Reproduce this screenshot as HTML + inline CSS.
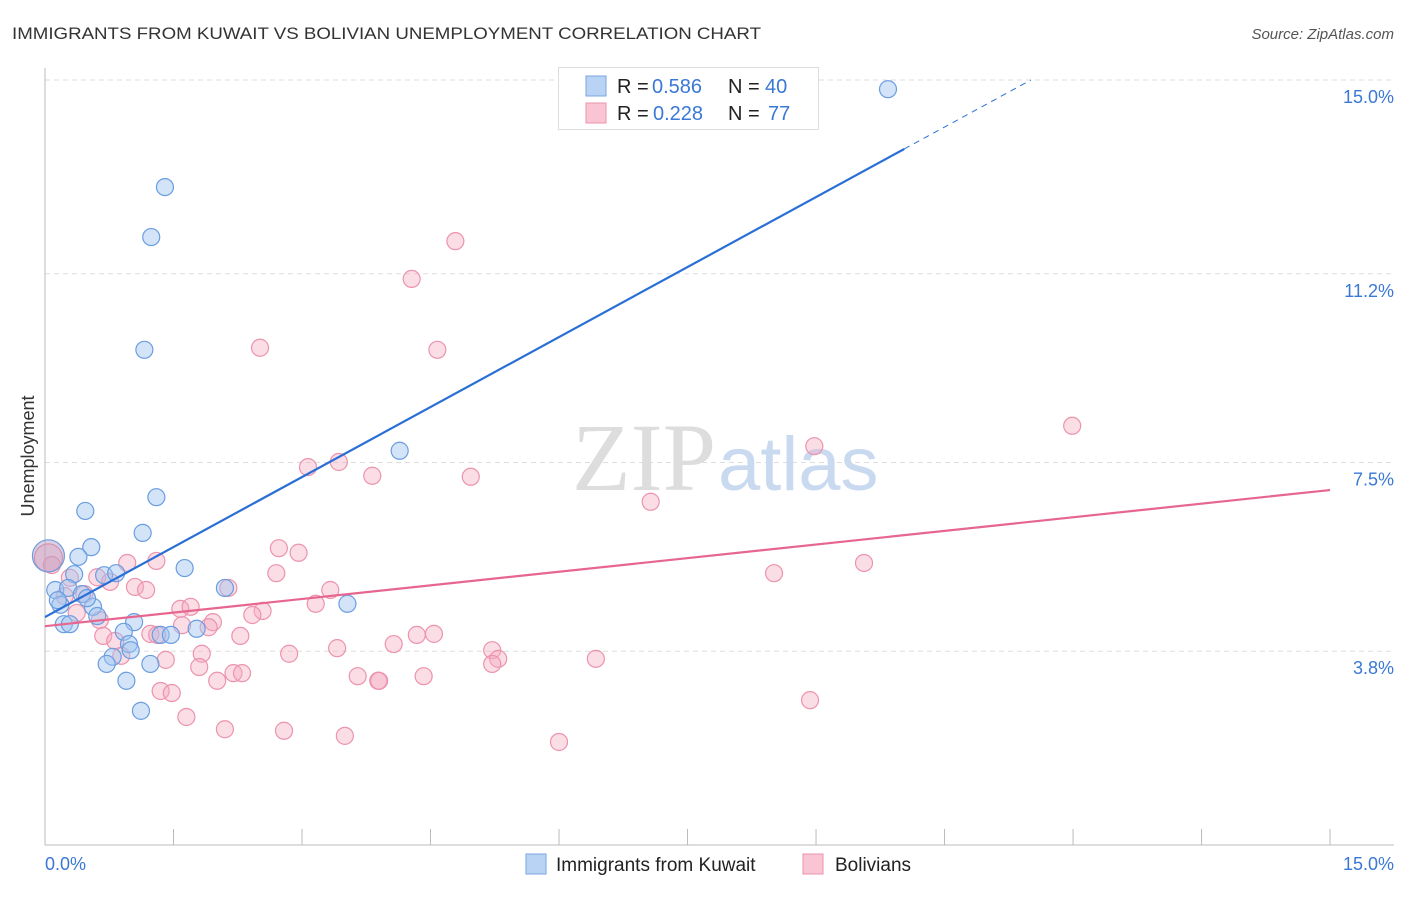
<!DOCTYPE html>
<html><head><meta charset="utf-8"><style>
body{margin:0;background:#fff;font-family:"Liberation Sans",sans-serif}
</style></head><body>
<svg width="1406" height="892" viewBox="0 0 1406 892" xmlns="http://www.w3.org/2000/svg">
<text x="12" y="39" font-size="17" fill="#333" textLength="749" lengthAdjust="spacingAndGlyphs">IMMIGRANTS FROM KUWAIT VS BOLIVIAN UNEMPLOYMENT CORRELATION CHART</text>
<text x="1394" y="39" font-size="15" fill="#555" font-style="italic" text-anchor="end">Source: ZipAtlas.com</text>
<g id="grid"></g>
<text x="716" y="490" font-size="96" font-family="Liberation Serif" fill="#ddd" text-anchor="end">ZIP</text>
<text x="718" y="490" font-size="76" fill="#c9daf0">atlas</text>
<g id="pts"></g>
<g id="lines"></g>
<text transform="translate(34,456) rotate(-90)" font-size="18" fill="#333" text-anchor="middle">Unemployment</text>
<text x="45" y="870" font-size="18" fill="#3a78d6">0.0%</text>
<text x="1394" y="870" font-size="18" fill="#3a78d6" text-anchor="end">15.0%</text>
<g font-size="20">
<rect x="558.5" y="67.5" width="260" height="62" fill="#fff" stroke="#ddd"/>
<rect x="586" y="76" width="20" height="20" fill="#b9d3f5" stroke="#7aa6e0"/>
<rect x="586" y="103" width="20" height="20" fill="#f9c5d4" stroke="#ec93ad"/>
<text x="617" y="93" fill="#222">R =</text>
<text x="652" y="93" fill="#3a78d6">0.586</text>
<text x="728" y="93" fill="#222">N =</text>
<text x="765" y="93" fill="#3a78d6">40</text>
<text x="617" y="120" fill="#222">R =</text>
<text x="653" y="120" fill="#3a78d6">0.228</text>
<text x="728" y="120" fill="#222">N =</text>
<text x="768" y="120" fill="#3a78d6">77</text>
</g>
<g>
<rect x="526" y="854" width="20" height="20" fill="#b9d3f5" stroke="#7aa6e0"/>
<text x="556" y="871" font-size="19" fill="#222">Immigrants from Kuwait</text>
<rect x="803" y="854" width="20" height="20" fill="#f9c5d4" stroke="#ec93ad"/>
<text x="835" y="871" font-size="19" fill="#222">Bolivians</text>
</g>
</svg>
<script>
const yTicks=[15.0,11.2,7.5,3.8];
const yTickLabels=["15.0%","11.2%","7.5%","3.8%"];
const blueX=[9.84,1.40,1.24,1.16,4.14,1.30,0.47,1.14,0.54,0.39,1.63,0.34,0.69,0.83,2.10,0.12,0.27,0.43,0.18,0.56,0.61,3.53,0.22,0.29,1.04,0.92,1.77,1.35,1.47,0.98,1.00,0.79,0.72,1.23,0.95,1.12,0.49,0.15,0.04];
const blueY=[14.82,12.90,11.92,9.71,7.73,6.82,6.55,6.12,5.84,5.65,5.43,5.31,5.29,5.33,5.04,5.00,5.04,4.92,4.71,4.67,4.49,4.73,4.33,4.33,4.37,4.18,4.24,4.12,4.12,3.94,3.82,3.69,3.55,3.55,3.22,2.63,4.84,4.80,5.67];
const pinkX=[4.79,4.28,2.51,4.58,11.99,8.98,3.07,3.43,3.82,4.97,7.07,2.73,2.96,1.30,0.96,9.56,8.51,2.70,0.61,0.76,1.05,2.14,1.18,3.33,0.08,0.29,0.23,0.46,3.16,1.58,1.70,2.54,2.42,0.37,0.64,1.60,1.96,1.91,0.68,1.23,1.31,2.28,0.82,4.34,4.54,4.07,3.41,2.85,1.83,5.22,0.89,1.41,5.29,6.43,5.22,1.80,3.65,2.20,2.30,3.89,3.90,4.42,2.01,1.35,1.48,8.93,1.65,2.10,2.79,3.50,6.00,0.04];
const pinkY=[11.84,11.10,9.75,9.71,8.22,7.82,7.41,7.51,7.24,7.22,6.73,5.82,5.73,5.57,5.53,5.53,5.33,5.33,5.25,5.16,5.06,5.04,5.00,5.00,5.49,5.24,4.88,4.92,4.73,4.63,4.67,4.59,4.51,4.55,4.41,4.31,4.37,4.27,4.10,4.14,4.12,4.10,4.00,4.12,4.14,3.94,3.86,3.75,3.75,3.82,3.71,3.63,3.65,3.65,3.55,3.49,3.31,3.37,3.37,3.22,3.22,3.31,3.22,3.02,2.98,2.84,2.51,2.27,2.24,2.14,2.02,5.63];
const blueFit=[4.47,0.915];
const pinkFit=[4.29,0.178];
const sx=v=>45+v*85.67, sy=v=>80+(15-v)*51.0;
const NS="http://www.w3.org/2000/svg";
function mk(t,a,p){const e=document.createElementNS(NS,t);for(const k in a)e.setAttribute(k,a[k]);p.appendChild(e);return e;}
const grid=document.getElementById('grid');
yTicks.forEach((t,i)=>{
 const l=mk('line',{x1:45,x2:1394,y1:sy(t),y2:sy(t),stroke:'#ddd','stroke-dasharray':'5,4'},grid);
 
 
 const tx=mk('text',{x:1394,y:sy(t)+23,'font-size':18,fill:'#3a78d6','text-anchor':'end'},grid);
 tx.textContent=yTickLabels[i];
 
 
});
const ax=mk('line',{x1:45,x2:45,y1:68,y2:845,stroke:'#bbb'},grid);


const bx=mk('line',{x1:45,x2:1394,y1:845,y2:845,stroke:'#bbb'},grid);


for(let k=0;k<=10;k++){const t=mk('line',{x1:sx(k*1.5),x2:sx(k*1.5),y1:829,y2:845,stroke:'#bbb'},grid);
 
 }
const pts=document.getElementById('pts');
pinkX.forEach((x,i)=>{const big=i==pinkX.length-1;const c=mk('circle',{cx:sx(x),cy:sy(pinkY[i]),r:big?14:8.5,fill:'rgba(246,170,192,0.4)',stroke:'#ec93ad','stroke-width':1.2},pts);
 
 });
blueX.forEach((x,i)=>{const big=i==blueX.length-1;const c=mk('circle',{cx:sx(x),cy:sy(blueY[i]),r:big?16:8.5,fill:big?'rgba(180,150,190,0.45)':'rgba(160,196,240,0.45)',stroke:'#6a9de0','stroke-width':1.2},pts);
 
 });
const lines=document.getElementById('lines');
const f=(fit,x)=>fit[0]+fit[1]*x;
let l1=mk('line',{x1:sx(0),y1:sy(f(blueFit,0)),x2:sx(10.03),y2:sy(f(blueFit,10.03)),stroke:'#2a6fd6','stroke-width':2.2},lines);


let xe=(15-blueFit[0])/blueFit[1];
let l2=mk('line',{x1:sx(10.03),y1:sy(f(blueFit,10.03)),x2:sx(xe),y2:sy(15),stroke:'#2a6fd6','stroke-width':1,'stroke-dasharray':'6,5'},lines);


let l3=mk('line',{x1:sx(0),y1:sy(f(pinkFit,0)),x2:sx(15),y2:sy(f(pinkFit,15)),stroke:'#e7668f','stroke-width':2.2},lines);


</script>
</body></html>
